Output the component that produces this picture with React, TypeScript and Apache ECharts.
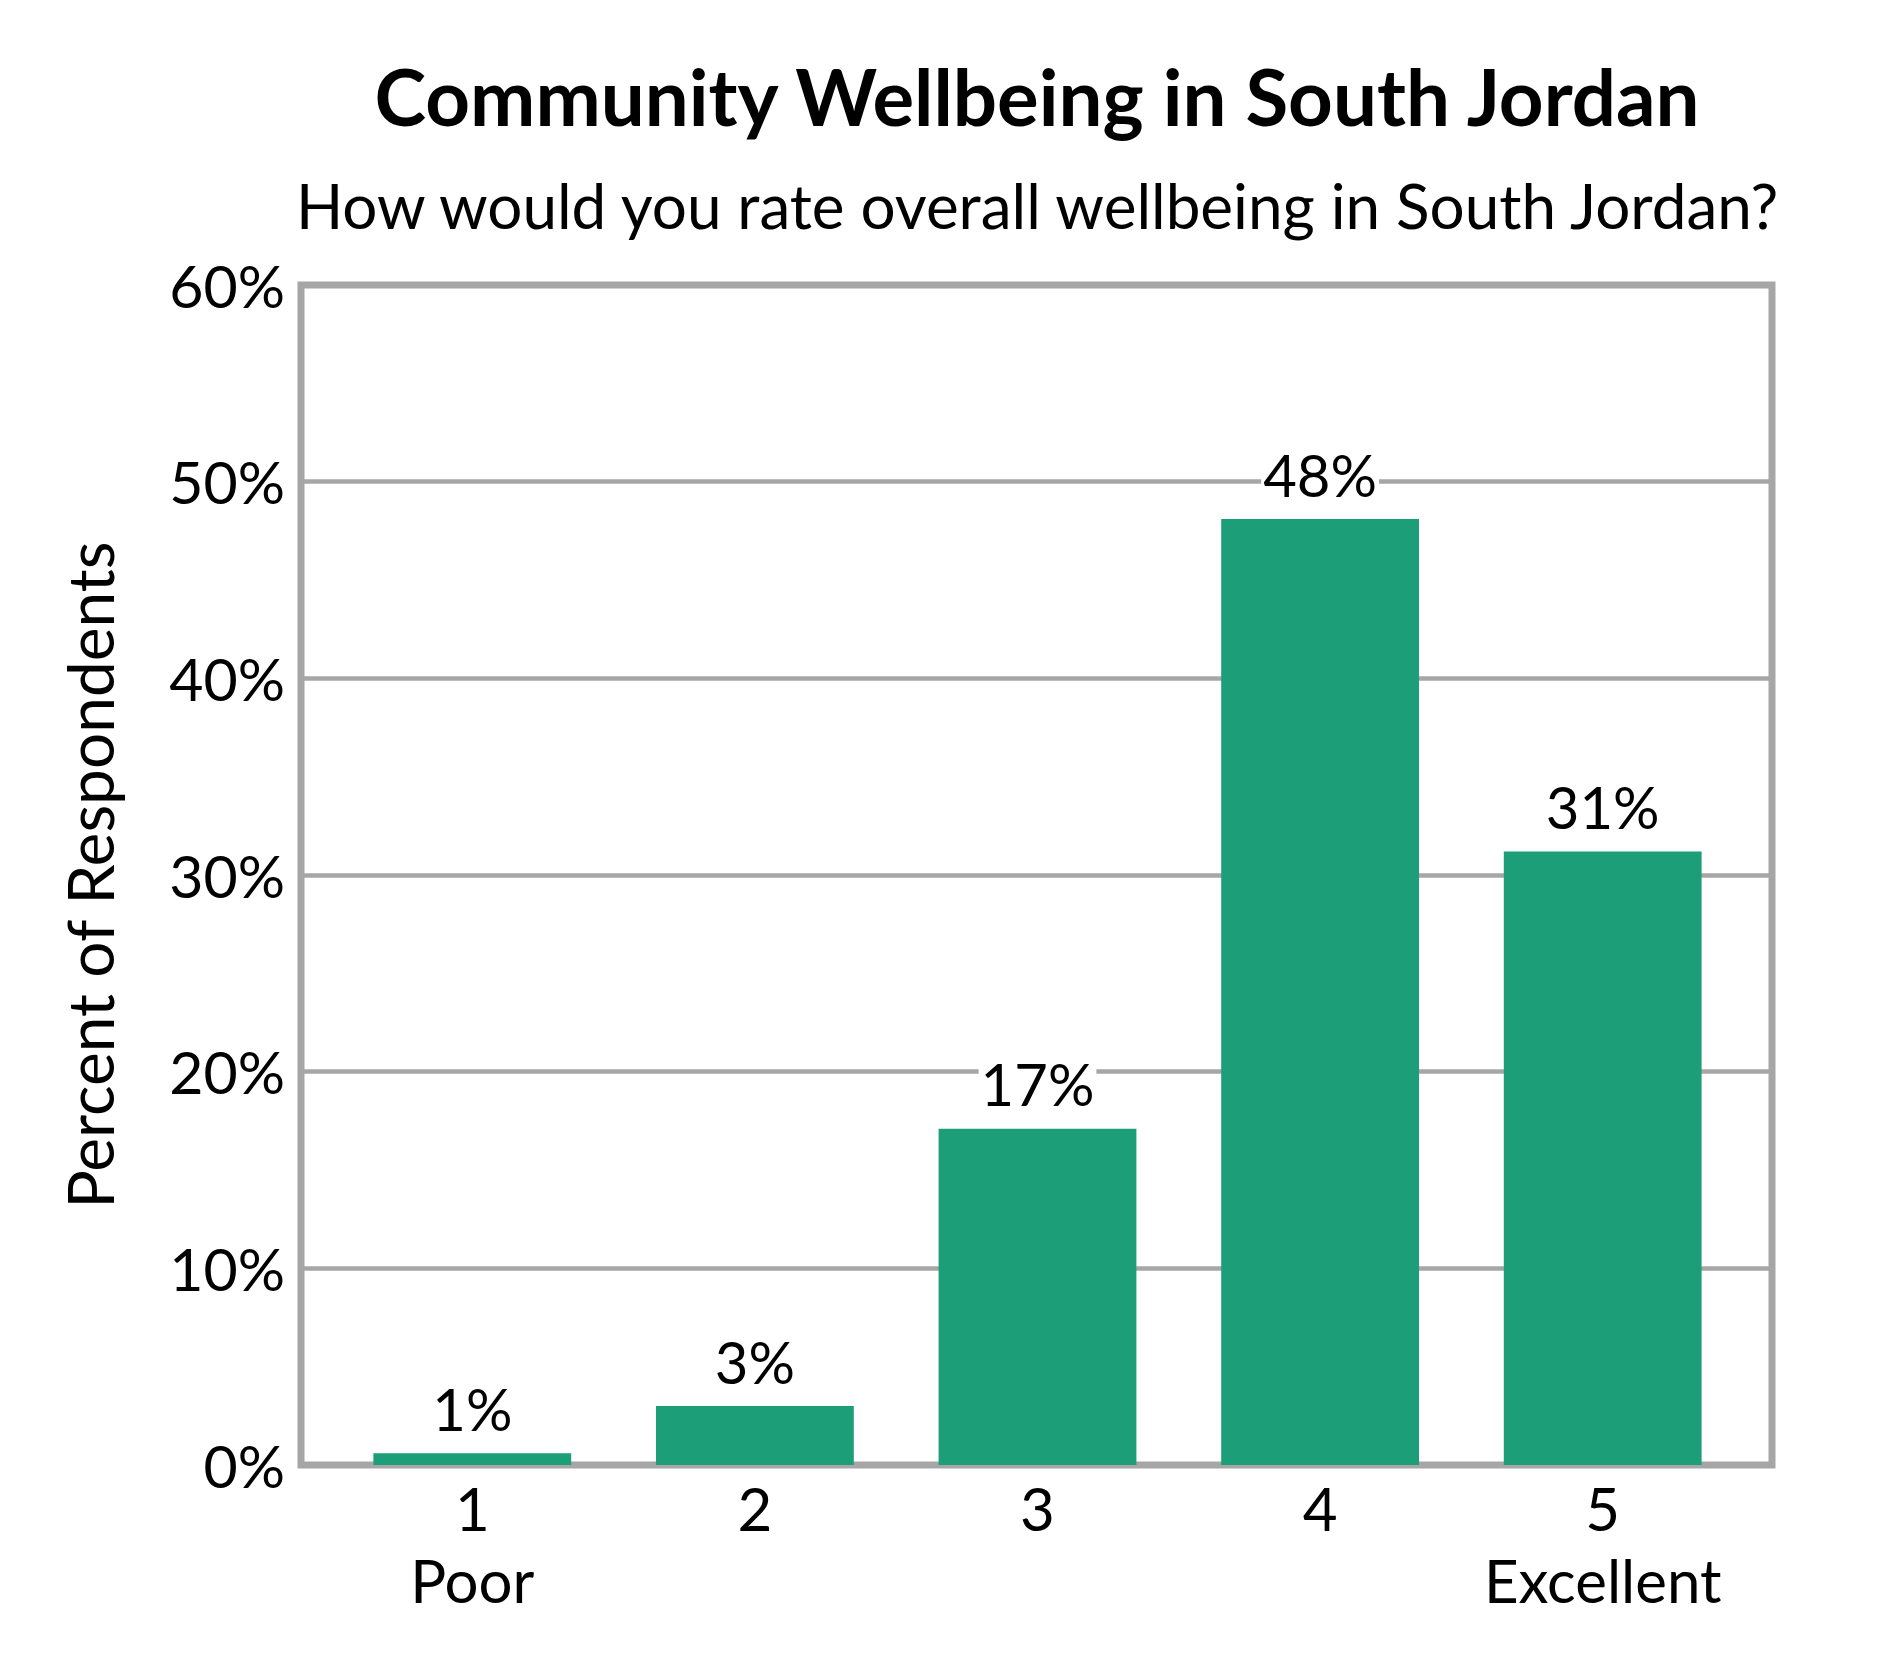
import React from 'react';
import * as echarts from 'echarts';

const categories = ['1\nPoor', '2', '3', '4', '5\nExcellent'];
const shares = [0.6, 3.0, 17.1, 48.1, 31.2];
const yTicks = { min: 0, max: 60, interval: 10 };

const FONT = 'Lato, "Open Sans", sans-serif';
const GRAY = '#a6a6a6';
const GREEN = '#1c9f78';

const buildOption = (): echarts.EChartsOption => ({
  animation: false,
  textStyle: { fontFamily: FONT, color: '#000' },
  graphic: [
    {
      type: 'text',
      x: 1037,
      y: 96,
      style: {
        text: 'Community Wellbeing in South Jordan',
        fontFamily: FONT,
        fontWeight: 'bold',
        fontSize: 78,
        fill: '#000',
        textAlign: 'center',
        textVerticalAlign: 'middle',
      },
    },
    {
      type: 'text',
      x: 1037,
      y: 205,
      style: {
        text: 'How would you rate overall wellbeing in South Jordan?',
        fontFamily: FONT,
        fontSize: 62,
        fill: '#000',
        textAlign: 'center',
        textVerticalAlign: 'middle',
      },
    },
  ],
  grid: [
    {
      left: 301,
      right: 118,
      top: 285,
      bottom: 215,
      show: true,
      borderColor: GRAY,
      borderWidth: 7,
      backgroundColor: 'transparent',
    },
    { left: 331, right: 146, top: 285, bottom: 215 },
  ],
  xAxis: [
    { type: 'value', gridIndex: 0, show: false, min: 0, max: 1 },
    {
      type: 'category',
      gridIndex: 1,
      data: categories,
      axisLine: { show: false },
      axisTick: { show: false },
      axisLabel: {
        interval: 0,
        fontFamily: FONT,
        fontSize: 60,
        lineHeight: 72,
        color: '#000',
        margin: 7,
        verticalAlign: 'top',
      },
    },
  ],
  yAxis: [
    {
      type: 'value',
      gridIndex: 0,
      ...yTicks,
      name: 'Percent of Respondents',
      nameLocation: 'middle',
      nameGap: 180,
      nameRotate: 90,
      nameTextStyle: { fontFamily: FONT, fontSize: 64, color: '#000' },
      axisLine: { show: false },
      axisTick: { show: false },
      axisLabel: {
        formatter: '{value}%',
        fontFamily: FONT,
        fontSize: 59,
        color: '#000',
        margin: 16,
      },
      splitLine: { lineStyle: { color: GRAY, width: 4.5 } },
    },
    { type: 'value', gridIndex: 1, ...yTicks, show: false },
  ],
  series: [
    {
      type: 'bar',
      xAxisIndex: 1,
      yAxisIndex: 1,
      data: shares,
      barCategoryGap: '30%',
      itemStyle: { color: GREEN },
      label: {
        show: true,
        position: 'top',
        distance: 15,
        formatter: (p: any) => `${Math.round(p.value)}%`,
        fontFamily: FONT,
        fontSize: 58,
        lineHeight: 60,
        color: '#000',
        backgroundColor: '#fff',
        padding: [0, 2],
      },
    },
  ],
});

export default function App() {
  const ref = React.useRef<HTMLDivElement>(null);

  React.useEffect(() => {
    document.body.style.margin = '0';
    if (!ref.current) return;
    const chart = echarts.init(ref.current, undefined, { renderer: 'svg' });
    chart.setOption(buildOption());
    return () => {
      chart.dispose();
    };
  }, []);

  return <div ref={ref} style={{ width: 1890, height: 1680, background: '#fff' }} />;
}
